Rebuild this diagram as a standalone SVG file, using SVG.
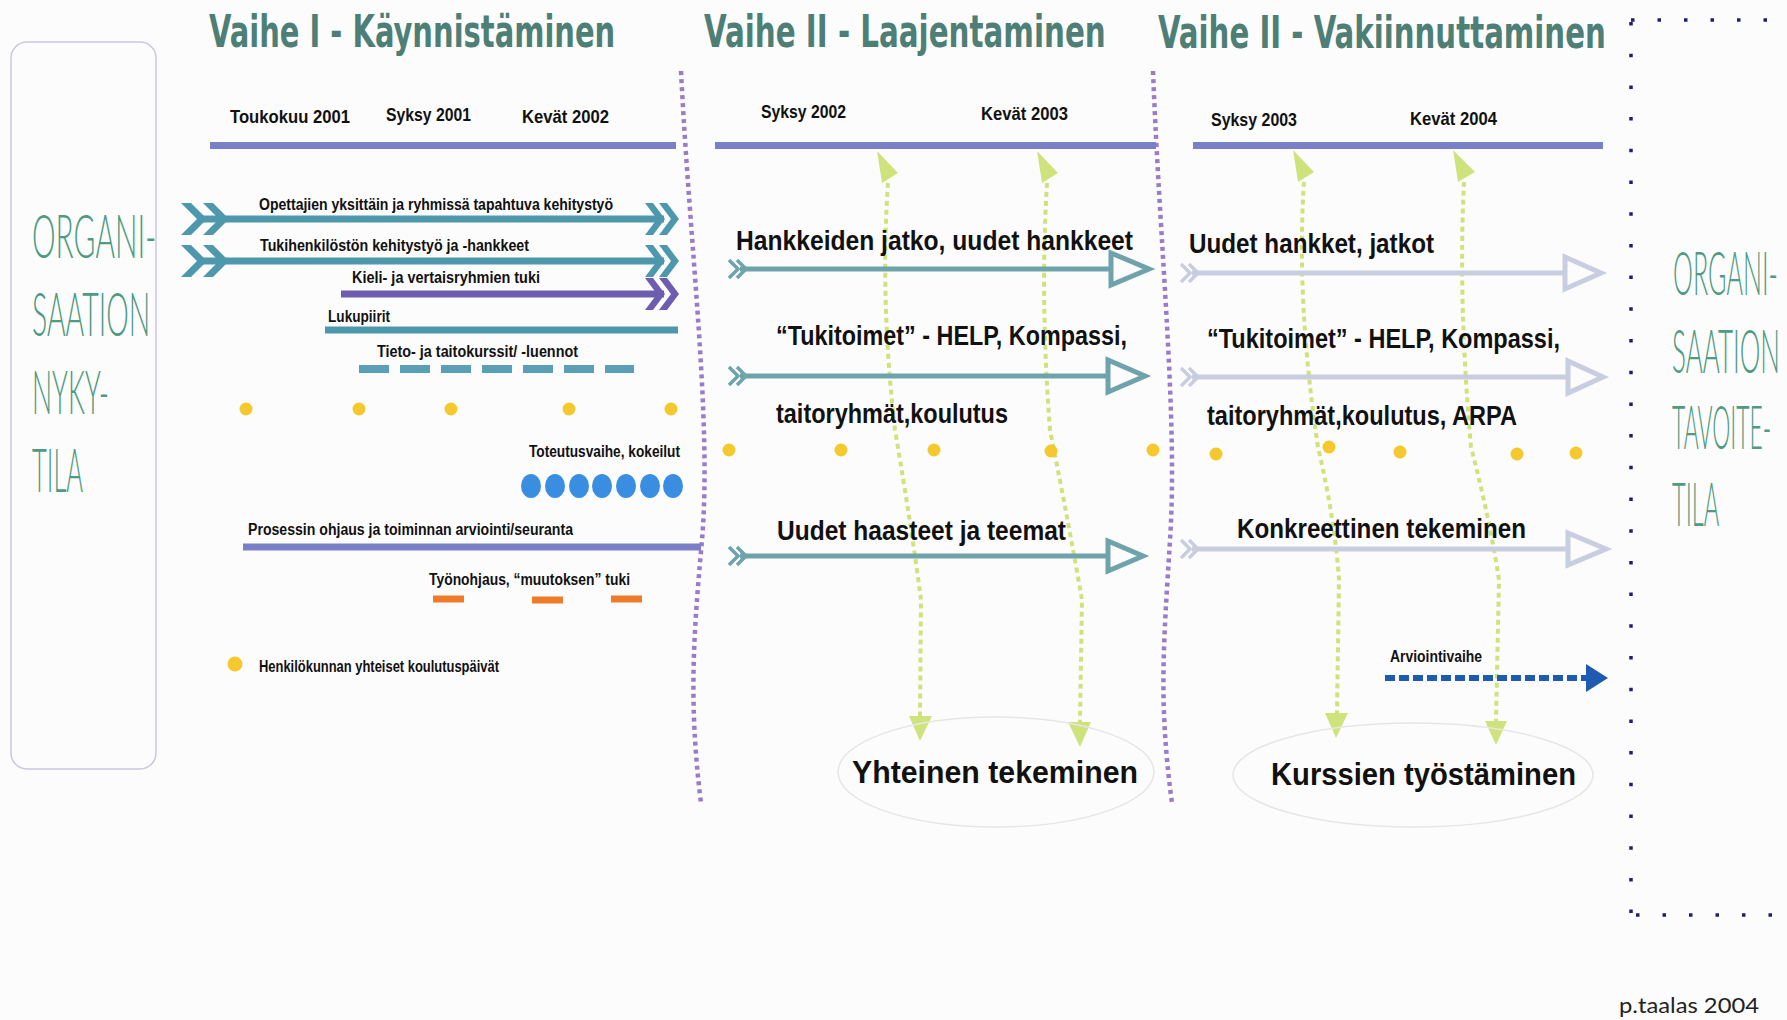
<svg xmlns="http://www.w3.org/2000/svg" width="1787" height="1020" viewBox="0 0 1787 1020">
<style>
.ttl{font-family:"DejaVu Sans Condensed","DejaVu Sans",sans-serif;font-weight:bold;font-size:44px;fill:#4e7f76}
.org{font-family:Lato,"Open Sans",sans-serif;font-weight:300;font-size:62px;fill:#4f9a83}
.dt{font-family:"Liberation Sans",Arial,sans-serif;font-weight:bold;font-size:19px;fill:#111}
.sm{font-family:"Liberation Sans",Arial,sans-serif;font-weight:bold;font-size:16px;fill:#111}
.md{font-family:"Liberation Sans",Arial,sans-serif;font-weight:bold;font-size:27px;fill:#111}
.lg{font-family:"Liberation Sans",Arial,sans-serif;font-weight:bold;font-size:31px;fill:#111}
.sig{font-family:Lato,"Liberation Sans",sans-serif;font-size:22px;fill:#222}
.bar{stroke:#7a80c8;stroke-width:7;fill:none}
.teal{stroke:#4e98ae;stroke-width:7;fill:none}
.div{stroke:#9b7cc4;stroke-width:4.5;stroke-dasharray:4 4;fill:none}
.grn{stroke:#cfe37c;stroke-width:4;stroke-dasharray:5 4;fill:none}
.ydot{fill:#f5c92e}
.bdot{fill:#3a8ee2}
.a2{stroke:#6fa3ac;stroke-width:5;fill:none}
.a3{stroke:#c9cde0;stroke-width:5;fill:none}
</style>
<defs>
<path id="chevL" d="M0,-16 L10,-16 L26,0 L10,16 L0,16 L16,0 Z"/>
<path id="chevR" d="M0,-16 L8,-16 L20,0 L8,16 L0,16 L12,0 Z"/>
<path id="chevS" d="M0,-9 L9,0 L0,9 M8,-9 L17,0 L8,9" stroke-width="3.5" fill="none"/>
</defs>
<rect x="0" y="0" width="1787" height="1020" fill="#fcfcfc"/>

<g id="connectors">
  <path class="grn" d="M888,183 Q880,300 895,430 Q912,530 921,600 L920,716"/>
  <polygon points="877,151 898,173 882,183" fill="#cfe37c"/>
  <polygon points="909,716 932,716 920,741" fill="#cfe37c"/>
  <path class="grn" d="M1047,183 Q1040,300 1050,430 Q1070,530 1082,600 L1080,722"/>
  <polygon points="1037,151 1058,173 1042,183" fill="#cfe37c"/>
  <polygon points="1068,722 1091,722 1080,747" fill="#cfe37c"/>
  <path class="grn" d="M1304,182 Q1296,300 1318,447 Q1335,520 1339,580 L1337,713"/>
  <polygon points="1293,150 1314,172 1298,182" fill="#cfe37c"/>
  <polygon points="1325,713 1348,713 1336,738" fill="#cfe37c"/>
  <path class="grn" d="M1464,182 Q1458,300 1471,447 Q1490,520 1499,580 L1496,721"/>
  <polygon points="1453,150 1475,172 1458,182" fill="#cfe37c"/>
  <polygon points="1485,721 1507,721 1496,745" fill="#cfe37c"/>
  <line x1="1385" y1="678" x2="1588" y2="678" stroke="#1c5bb0" stroke-width="6" stroke-dasharray="10 4"/>
  <polygon points="1586,664 1608,678 1586,692" fill="#1c5bb0"/>
</g>

<g id="start-state">
  <rect x="11" y="42" width="145" height="727" rx="16" fill="none" stroke="#c8c8e0" stroke-width="1.5"/>
  <text class="org" transform="translate(32,258) scale(0.46,1)" textLength="270" lengthAdjust="spacingAndGlyphs">ORGANI-</text>
  <text class="org" transform="translate(32,336) scale(0.46,1)" textLength="257" lengthAdjust="spacingAndGlyphs">SAATION</text>
  <text class="org" transform="translate(32,414) scale(0.46,1)" textLength="167" lengthAdjust="spacingAndGlyphs">NYKY-</text>
  <text class="org" transform="translate(32,492) scale(0.46,1)" textLength="111" lengthAdjust="spacingAndGlyphs">TILA</text>
</g>

<g id="goal-state">
  <line x1="1631" y1="20" x2="1787" y2="20" stroke="#1e1e70" stroke-width="3.5" stroke-dasharray="3.5 23"/>
  <line x1="1631" y1="22" x2="1631" y2="916" stroke="#1e1e70" stroke-width="3.5" stroke-dasharray="3.5 28.2"/>
  <line x1="1636" y1="915" x2="1787" y2="915" stroke="#1e1e70" stroke-width="3.5" stroke-dasharray="3.5 23"/>
  <text class="org" transform="translate(1673,295) scale(0.4,1)" textLength="262" lengthAdjust="spacingAndGlyphs">ORGANI-</text>
  <text class="org" transform="translate(1672,373) scale(0.4,1)" textLength="270" lengthAdjust="spacingAndGlyphs">SAATION</text>
  <text class="org" transform="translate(1672,449) scale(0.4,1)" textLength="248" lengthAdjust="spacingAndGlyphs">TAVOITE-</text>
  <text class="org" transform="translate(1672,526) scale(0.4,1)" textLength="118" lengthAdjust="spacingAndGlyphs">TILA</text>
</g>

<g id="dividers">
  <path class="div" d="M681,71 C690,250 712,420 702,540 C694,630 688,700 701,803"/>
  <path class="div" d="M1153,71 C1160,250 1178,420 1170,540 C1164,640 1158,700 1172,803"/>
</g>

<g id="phase1">
  <text class="ttl" transform="translate(209,47) scale(0.65,1)" textLength="625" lengthAdjust="spacingAndGlyphs">Vaihe I - Käynnistäminen</text>
  <line class="bar" x1="210" y1="145.5" x2="676" y2="145.5"/>
  <text class="dt" x="230" y="123" textLength="120" lengthAdjust="spacingAndGlyphs">Toukokuu  2001</text>
  <text class="dt" x="386" y="121" textLength="85" lengthAdjust="spacingAndGlyphs">Syksy 2001</text>
  <text class="dt" x="522" y="123" textLength="87" lengthAdjust="spacingAndGlyphs">Kevät 2002</text>
</g>

<g id="row-opettajat">
  <text class="sm" x="259" y="210" textLength="354" lengthAdjust="spacingAndGlyphs">Opettajien yksittäin ja ryhmissä tapahtuva kehitystyö</text>
  <line class="teal" x1="200" y1="219" x2="664" y2="219"/>
  <use href="#chevL" x="181" y="219" fill="#4e98ae"/>
  <use href="#chevL" x="203" y="219" fill="#4e98ae"/>
  <use href="#chevR" x="645" y="219" fill="#4e98ae"/>
  <use href="#chevR" x="659" y="219" fill="#4e98ae"/>
</g>

<g id="row-tukihenkilosto">
  <text class="sm" x="260" y="251" textLength="269" lengthAdjust="spacingAndGlyphs">Tukihenkilöstön  kehitystyö ja -hankkeet</text>
  <line class="teal" x1="200" y1="261" x2="664" y2="261"/>
  <use href="#chevL" x="181" y="261" fill="#4e98ae"/>
  <use href="#chevL" x="203" y="261" fill="#4e98ae"/>
  <use href="#chevR" x="645" y="261" fill="#4e98ae"/>
  <use href="#chevR" x="659" y="261" fill="#4e98ae"/>
</g>

<g id="row-kieli">
  <text class="sm" x="352" y="283" textLength="188" lengthAdjust="spacingAndGlyphs">Kieli- ja vertaisryhmien tuki</text>
  <line x1="341" y1="294" x2="664" y2="294" stroke="#6e5cb0" stroke-width="7"/>
  <use href="#chevR" x="645" y="294" fill="#6e5cb0"/>
  <use href="#chevR" x="659" y="294" fill="#6e5cb0"/>
</g>

<g id="row-lukupiirit">
  <text class="sm" x="328" y="322" textLength="62" lengthAdjust="spacingAndGlyphs">Lukupiirit</text>
  <line class="teal" x1="325" y1="330" x2="678" y2="330"/>
</g>

<g id="row-kurssit">
  <text class="sm" x="377" y="357" textLength="201" lengthAdjust="spacingAndGlyphs">Tieto- ja taitokurssit/ -luennot</text>
  <line x1="359" y1="369" x2="634" y2="369" stroke="#5a9fb5" stroke-width="8" stroke-dasharray="30 11"/>
</g>

<g id="dots-phase1">
  <circle class="ydot" cx="246" cy="409" r="6.5"/>
  <circle class="ydot" cx="359" cy="409" r="6.5"/>
  <circle class="ydot" cx="451" cy="409" r="6.5"/>
  <circle class="ydot" cx="569" cy="409" r="6.5"/>
  <circle class="ydot" cx="671" cy="409" r="6.5"/>
</g>

<g id="row-toteutus">
  <text class="sm" x="529" y="457" textLength="151" lengthAdjust="spacingAndGlyphs">Toteutusvaihe, kokeilut</text>
  <ellipse class="bdot" cx="531" cy="486" rx="10" ry="12"/>
  <ellipse class="bdot" cx="555" cy="486" rx="10" ry="12"/>
  <ellipse class="bdot" cx="579" cy="486" rx="10" ry="12"/>
  <ellipse class="bdot" cx="602" cy="486" rx="10" ry="12"/>
  <ellipse class="bdot" cx="626" cy="486" rx="10" ry="12"/>
  <ellipse class="bdot" cx="650" cy="486" rx="10" ry="12"/>
  <ellipse class="bdot" cx="673" cy="486" rx="10" ry="12"/>
</g>

<g id="row-prosessi">
  <text class="sm" x="248" y="535" textLength="325" lengthAdjust="spacingAndGlyphs">Prosessin ohjaus ja toiminnan arviointi/seuranta</text>
  <line class="bar" x1="243" y1="547" x2="701" y2="547"/>
</g>

<g id="row-tyonohjaus">
  <text class="sm" x="429" y="585" textLength="201" lengthAdjust="spacingAndGlyphs">Työnohjaus, “muutoksen” tuki</text>
  <line x1="433" y1="599" x2="464" y2="599" stroke="#ef7a2a" stroke-width="7"/>
  <line x1="532" y1="600" x2="563" y2="600" stroke="#ef7a2a" stroke-width="7"/>
  <line x1="611" y1="599" x2="642" y2="599" stroke="#ef7a2a" stroke-width="7"/>
</g>

<g id="legend">
  <circle class="ydot" cx="235" cy="664" r="7.5"/>
  <text class="sm" x="259" y="672" textLength="240" lengthAdjust="spacingAndGlyphs">Henkilökunnan yhteiset koulutuspäivät</text>
</g>

<g id="phase2">
  <text class="ttl" transform="translate(704,47) scale(0.65,1)" textLength="618" lengthAdjust="spacingAndGlyphs">Vaihe II - Laajentaminen</text>
  <line class="bar" x1="715" y1="145.5" x2="1156" y2="145.5"/>
  <text class="dt" x="761" y="118" textLength="85" lengthAdjust="spacingAndGlyphs">Syksy 2002</text>
  <text class="dt" x="981" y="120" textLength="87" lengthAdjust="spacingAndGlyphs">Kevät 2003</text>
</g>

<g id="p2-hankkeet">
  <text class="md" x="736" y="250" textLength="397" lengthAdjust="spacingAndGlyphs">Hankkeiden jatko, uudet hankkeet</text>
  <line class="a2" x1="740" y1="269" x2="1111" y2="269"/>
  <use href="#chevS" x="729" y="269" stroke="#6fa3ac"/>
  <polygon class="a2" points="1111,253 1149,269 1111,285" fill="#fcfcfc"/>
</g>

<g id="p2-tukitoimet">
  <text class="md" x="776" y="345" textLength="351" lengthAdjust="spacingAndGlyphs">“Tukitoimet” - HELP, Kompassi,</text>
  <line class="a2" x1="740" y1="376" x2="1108" y2="376"/>
  <use href="#chevS" x="729" y="376" stroke="#6fa3ac"/>
  <polygon class="a2" points="1108,360 1145,376 1108,392" fill="#fcfcfc"/>
  <text class="md" x="776" y="423" textLength="232" lengthAdjust="spacingAndGlyphs">taitoryhmät,koulutus</text>
</g>

<g id="dots-phase2">
  <circle class="ydot" cx="729" cy="450" r="6.5"/>
  <circle class="ydot" cx="841" cy="450" r="6.5"/>
  <circle class="ydot" cx="934" cy="450" r="6.5"/>
  <circle class="ydot" cx="1051" cy="451" r="6.5"/>
  <circle class="ydot" cx="1153" cy="450" r="6.5"/>
</g>

<g id="p2-haasteet">
  <text class="md" x="777" y="540" textLength="289" lengthAdjust="spacingAndGlyphs">Uudet haasteet ja teemat</text>
  <line class="a2" x1="740" y1="556" x2="1108" y2="556"/>
  <use href="#chevS" x="729" y="556" stroke="#6fa3ac"/>
  <polygon class="a2" points="1108,541 1143,556 1108,571" fill="#fcfcfc"/>
</g>

<g id="p2-yhteinen">
  <ellipse cx="996" cy="772" rx="158" ry="55" fill="none" stroke="#e6e6e6" stroke-width="1.5"/>
  <text class="lg" x="852" y="783" textLength="286" lengthAdjust="spacingAndGlyphs">Yhteinen tekeminen</text>
</g>

<g id="phase3">
  <text class="ttl" transform="translate(1158,48) scale(0.65,1)" textLength="689" lengthAdjust="spacingAndGlyphs">Vaihe II - Vakiinnuttaminen</text>
  <line class="bar" x1="1193" y1="145.5" x2="1603" y2="145.5"/>
  <text class="dt" x="1211" y="126" textLength="86" lengthAdjust="spacingAndGlyphs">Syksy 2003</text>
  <text class="dt" x="1410" y="125" textLength="87" lengthAdjust="spacingAndGlyphs">Kevät 2004</text>
</g>

<g id="p3-hankkeet">
  <text class="md" x="1189" y="253" textLength="245" lengthAdjust="spacingAndGlyphs">Uudet hankket, jatkot</text>
  <line class="a3" x1="1192" y1="273" x2="1565" y2="273"/>
  <use href="#chevS" x="1181" y="273" stroke="#c9cde0"/>
  <polygon class="a3" points="1565,257 1601,273 1565,289" fill="#fcfcfc"/>
</g>

<g id="p3-tukitoimet">
  <text class="md" x="1207" y="348" textLength="353" lengthAdjust="spacingAndGlyphs">“Tukitoimet” - HELP, Kompassi,</text>
  <line class="a3" x1="1192" y1="377" x2="1568" y2="377"/>
  <use href="#chevS" x="1181" y="377" stroke="#c9cde0"/>
  <polygon class="a3" points="1568,361 1603,377 1568,393" fill="#fcfcfc"/>
  <text class="md" x="1207" y="425" textLength="310" lengthAdjust="spacingAndGlyphs">taitoryhmät,koulutus, ARPA</text>
</g>

<g id="dots-phase3">
  <circle class="ydot" cx="1216" cy="454" r="6.5"/>
  <circle class="ydot" cx="1329" cy="447" r="6.5"/>
  <circle class="ydot" cx="1400" cy="452" r="6.5"/>
  <circle class="ydot" cx="1517" cy="454" r="6.5"/>
  <circle class="ydot" cx="1576" cy="453" r="6.5"/>
</g>

<g id="p3-konkreettinen">
  <text class="md" x="1237" y="538" textLength="289" lengthAdjust="spacingAndGlyphs">Konkreettinen tekeminen</text>
  <line class="a3" x1="1192" y1="549" x2="1568" y2="549"/>
  <use href="#chevS" x="1181" y="549" stroke="#c9cde0"/>
  <polygon class="a3" points="1568,533 1606,549 1568,565" fill="#fcfcfc"/>
</g>

<g id="p3-arviointi">
  <text class="sm" x="1390" y="662" textLength="92" lengthAdjust="spacingAndGlyphs">Arviointivaihe</text>
</g>

<g id="p3-kurssit">
  <ellipse cx="1413" cy="775" rx="180" ry="52" fill="none" stroke="#e6e6e6" stroke-width="1.5"/>
  <text class="lg" x="1271" y="785" textLength="305" lengthAdjust="spacingAndGlyphs">Kurssien työstäminen</text>
</g>

<g id="signature">
  <text class="sig" x="1619" y="1013" textLength="140" lengthAdjust="spacingAndGlyphs">p.taalas 2004</text>
</g>
</svg>
